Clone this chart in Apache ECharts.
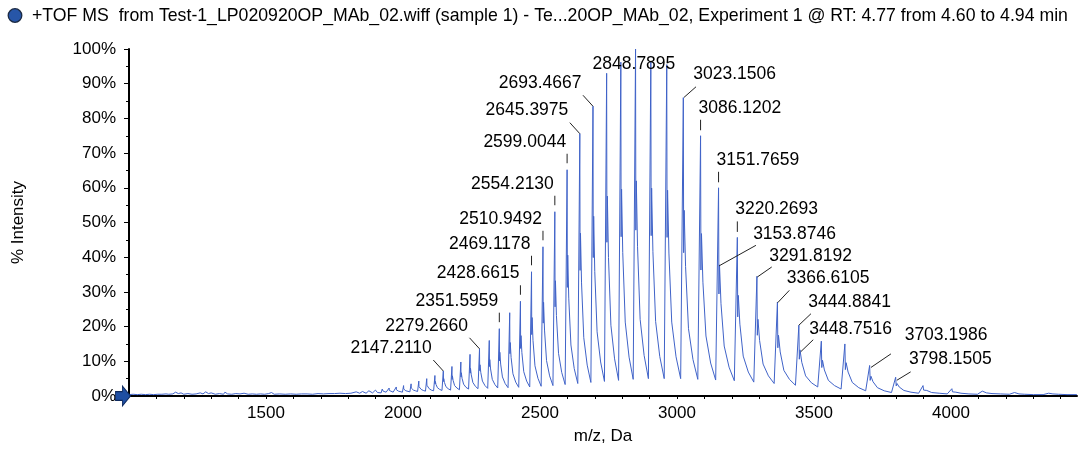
<!DOCTYPE html>
<html>
<head>
<meta charset="utf-8">
<script src="https://cdn.jsdelivr.net/npm/echarts@6/dist/echarts.min.js"></script>
<style>
  html, body { margin: 0; padding: 0; background: #fff; }
  #main { width: 1079px; height: 450px; }
</style>
</head>
<body>
<div id="main"></div>
<script>
// 低 m/z 区域的基线噪声
var lowMz = [1000, 1015, 1030, 1045, 1060, 1075, 1090, 1105, 1120, 1135, 1145, 1150, 1160, 1170, 1180, 1190, 1200, 1215, 1230, 1245, 1260, 1270, 1280, 1290, 1300, 1315, 1330, 1345, 1350, 1360, 1375, 1390, 1405, 1420, 1435, 1450, 1465, 1480, 1495, 1510, 1520, 1530, 1550, 1570, 1590, 1610, 1630, 1650, 1670, 1690, 1710, 1730, 1750, 1770, 1790, 1810];
var lowPct = [0.4, 0.5, 0.4, 0.5, 0.4, 0.5, 0.4, 0.5, 0.5, 0.6, 0.5, 1.0, 0.6, 1.1, 0.7, 0.9, 0.5, 0.7, 0.5, 0.6, 0.9, 0.6, 1.2, 0.7, 0.9, 0.5, 0.7, 0.5, 1.1, 0.6, 0.5, 0.7, 0.6, 0.8, 0.5, 0.6, 0.5, 0.6, 0.5, 0.7, 1.0, 0.5, 0.6, 0.5, 0.6, 0.5, 0.6, 0.6, 0.5, 0.7, 0.6, 0.7, 0.7, 0.8, 0.7, 0.8];

// 电荷态峰: 顶点、裂峰、拖尾、谷底 (% intensity)
var peakMz = [1829.2, 1852.1, 1875.5, 1899.5, 1924.2, 1949.5, 1975.5, 2002.2, 2029.6, 2057.7, 2086.7, 2116.5, 2147.2110, 2178.7, 2211.2, 2244.7, 2279.2660, 2314.9, 2351.5959, 2389.5, 2428.6615, 2469.1178, 2510.9492, 2554.2130, 2599.0044, 2645.3975, 2693.4667, 2743.3, 2795.1, 2848.7895, 2904.6, 2962.7, 3023.1506, 3086.1202, 3151.7659, 3220.2693, 3291.8192, 3366.6105, 3444.8841, 3526.8, 3612.8, 3703.1986, 3798.1505, 3898.0, 4003.3, 4114.5, 4232.0, 4356.4];
var peakTop = [1.2, 1.3, 1.5, 1.7, 2.0, 2.3, 2.6, 3.0, 3.5, 4.3, 5.0, 5.9, 7.2, 8.5, 9.8, 12.0, 13.6, 16.0, 19.4, 24.0, 27.3, 35.8, 43.0, 53.1, 65.2, 75.6, 83.5, 93.0, 96.2, 100, 96.5, 95.5, 86.0, 75.0, 60.0, 45.7, 34.5, 27.1, 20.4, 15.8, 15.0, 8.8, 5.4, 3.0, 2.1, 1.4, 1.0, 0.8];
var peakDip = [1.0, 1.0, 1.2, 1.3, 1.5, 1.6, 1.8, 2.0, 2.3, 2.7, 3.1, 3.5, 4.2, 4.8, 5.5, 6.6, 7.3, 8.5, 10.1, 12.2, 13.7, 17.7, 21.0, 25.7, 31.3, 36.2, 39.9, 44.3, 45.9, 47.8, 46.2, 45.7, 41.3, 36.3, 29.4, 22.8, 17.5, 13.9, 10.6, 8.2, 7.6, 4.5, 2.9, 1.7, 1.2, 0.9, 0.7, 0.6];
var peakSecond = [1.0, 1.1, 1.3, 1.4, 1.6, 1.8, 2.0, 2.3, 2.6, 3.1, 3.6, 4.2, 5.0, 5.8, 6.7, 8.0, 9.0, 10.5, 12.6, 15.4, 17.4, 22.6, 27.0, 33.2, 40.6, 46.9, 51.8, 57.6, 59.6, 62.0, 59.9, 59.3, 53.5, 46.8, 37.8, 29.0, 22.1, 17.5, 13.3, 10.3, 9.6, 5.7, 3.6, 2.0, 1.5, 1.0, 0.8, 0.6];
var peakMid = [1.0, 1.0, 1.1, 1.2, 1.4, 1.5, 1.7, 1.9, 2.2, 2.6, 2.9, 3.3, 3.9, 4.5, 5.1, 6.1, 6.8, 7.8, 9.2, 11.1, 12.5, 16.0, 19.0, 23.2, 28.2, 32.6, 35.9, 39.9, 41.4, 43.0, 41.6, 41.2, 37.3, 32.8, 26.6, 20.7, 16.0, 12.7, 9.7, 7.5, 6.9, 4.1, 2.6, 1.6, 1.1, 0.9, 0.6, 0.6];
var peakTail = [0.9, 0.9, 1.0, 1.0, 1.2, 1.2, 1.4, 1.5, 1.7, 1.9, 2.1, 2.4, 2.7, 3.0, 3.4, 3.9, 4.3, 4.8, 5.5, 6.4, 7.0, 8.7, 10.2, 12.3, 14.7, 16.8, 18.5, 20.4, 21.3, 22.1, 21.5, 21.3, 19.4, 17.3, 14.4, 11.5, 9.2, 7.4, 5.8, 4.5, 3.9, 2.4, 1.6, 1.0, 0.8, 0.7, 0.5, 0.5];
var peakFoot = [0.8, 0.8, 0.9, 1.0, 1.1, 1.1, 1.2, 1.3, 1.5, 1.6, 1.7, 1.9, 2.1, 2.3, 2.5, 2.8, 3.0, 3.3, 3.6, 4.0, 4.3, 5.1, 5.8, 6.8, 7.9, 8.9, 9.8, 10.7, 11.2, 11.7, 11.4, 11.3, 10.5, 9.5, 8.3, 6.9, 5.8, 4.8, 3.8, 3.0, 2.4, 1.5, 1.1, 0.8, 0.6, 0.6, 0.4, 0.4];
var valleyPct = [0.8, 0.8, 0.9, 0.9, 1.0, 1.0, 1.1, 1.2, 1.3, 1.4, 1.5, 1.6, 1.7, 1.8, 2.0, 2.1, 2.2, 2.3, 2.4, 2.5, 2.6, 2.8, 3.0, 3.3, 3.6, 3.9, 4.2, 4.5, 4.8, 5.0, 5.0, 5.0, 4.8, 4.6, 4.4, 4.0, 3.6, 3.1, 2.6, 2.0, 1.5, 1.0, 0.8, 0.6, 0.5, 0.5, 0.4, 0.4];

// 标注的峰
var labelMz = [2147.2110, 2279.2660, 2351.5959, 2428.6615, 2469.1178, 2510.9492, 2554.2130, 2599.0044, 2645.3975, 2693.4667, 2848.7895, 3023.1506, 3086.1202, 3151.7659, 3220.2693, 3153.8746, 3291.8192, 3366.6105, 3444.8841, 3448.7516, 3703.1986, 3798.1505];
var labelPct = [7.2, 13.6, 19.4, 27.3, 35.8, 43.0, 53.1, 65.2, 75.6, 83.5, 100, 86.0, 75.0, 60.0, 45.7, 37.8, 34.5, 27.1, 20.4, 13.3, 8.8, 5.4];

var xTicks = { min: 1000, max: 4460, interval: 100, labelStep: 500 };
var yTicks = { min: 0, max: 100, interval: 10 };

var titleText = '+TOF MS  from Test-1_LP020920OP_MAb_02.wiff (sample 1) - Te...20OP_MAb_02, Experiment 1 @ RT: 4.77 from 4.60 to 4.94 min';

// 标签相对峰顶的摆放 (像素)
var diagL = { align: 'right', dx: -11.5, dy: -23, line: [-10, -11, 0, 0] };
var dashR = { align: 'right', dx: -1, dy: -28, line: [0, -16, 0, -6.5] };
var dashL = { align: 'left', dx: -2, dy: -28, line: [0, -16, 0, -5.5] };
var labelPlace = [
    diagL, diagL, dashR, dashR, dashR, dashR, dashR, dashR, diagL, diagL,
    { align: 'center', dx: -1.6, dy: 14.7, line: null },
    { align: 'left', dx: 10, dy: -23.5, line: [12.7, -10.8, 0.7, -0.2] },
    dashL, dashL, dashL,
    { align: 'left', dx: 34, dy: -30.5, line: [36.8, -19.5, 0, 1] },
    { align: 'left', dx: 12.4, dy: -20, line: [14.8, -9.3, 0.4, 0.7] },
    { align: 'left', dx: 9.3, dy: -23.3, line: [11.9, -11.6, 0.3, 0.7] },
    { align: 'left', dx: 9.4, dy: -23.1, line: [12.1, -11.5, 0, 0] },
    { align: 'left', dx: 9.3, dy: -20.4, line: [13.3, -10.1, 0.7, 2] },
    { align: 'left', dx: 35, dy: -30.5, line: [21.3, -11.6, 1.3, 2] },
    { align: 'left', dx: 13.3, dy: -18.2, line: [15, -5.4, 1.2, 3] }
];

var spectrum = [];
lowMz.forEach(function (m, i) { spectrum.push([m, lowPct[i]]); });
peakMz.forEach(function (m, i) {
    var gap = (i < peakMz.length - 1 ? peakMz[i + 1] : m + 120) - m;
    spectrum.push([m, peakTop[i]]);
    spectrum.push([m + 0.02 * gap, peakDip[i]]);
    spectrum.push([m + 0.05 * gap, peakSecond[i]]);
    spectrum.push([m + 0.13 * gap, peakMid[i]]);
    spectrum.push([m + 0.3 * gap, peakTail[i]]);
    spectrum.push([m + 0.56 * gap, peakFoot[i]]);
    spectrum.push([m + 0.84 * gap, valleyPct[i]]);
});
spectrum.push([xTicks.max, 0.4]);

var labelData = labelMz.map(function (m, i) { return [m, labelPct[i]]; });

var font = '"Liberation Sans", Arial, Helvetica, sans-serif';
var chart = echarts.init(document.getElementById('main'), null, { renderer: 'canvas' });

var option = {
    animation: false,
    backgroundColor: '#fff',
    textStyle: { fontFamily: font, color: '#000' },
    title: {
        text: titleText,
        left: 27,
        top: 2,
        textStyle: { fontSize: 17.7, fontWeight: 'normal', color: '#000', fontFamily: font }
    },
    graphic: [{
        type: 'circle',
        shape: { cx: 15, cy: 15.5, r: 6.8 },
        style: { fill: '#2756a8', stroke: '#1b2a44', lineWidth: 1.3 }
    }],
    grid: { left: 129, right: 2, top: 49, bottom: 54 },
    xAxis: {
        type: 'value',
        min: xTicks.min,
        max: xTicks.max,
        interval: xTicks.interval,
        name: 'm/z, Da',
        nameLocation: 'middle',
        nameGap: 32,
        nameTextStyle: { fontSize: 17, color: '#000' },
        axisLine: { lineStyle: { color: '#000', width: 2 } },
        axisTick: { length: 3, lineStyle: { color: '#000', width: 1 } },
        axisLabel: {
            fontSize: 17,
            color: '#000',
            margin: 9,
            showMinLabel: false,
            showMaxLabel: false,
            formatter: function (v) {
                return (v % xTicks.labelStep === 0 && v !== xTicks.min) ? String(v) : '';
            }
        },
        splitLine: { show: false }
    },
    yAxis: {
        type: 'value',
        min: yTicks.min,
        max: yTicks.max,
        interval: yTicks.interval,
        name: '% Intensity',
        nameLocation: 'middle',
        nameGap: 102,
        nameTextStyle: { fontSize: 17, color: '#000' },
        axisLine: { show: true, lineStyle: { color: '#000', width: 2 } },
        axisTick: { show: true, length: 5, lineStyle: { color: '#000', width: 1 } },
        minorTick: { show: true, splitNumber: 2, length: 3, lineStyle: { color: '#000', width: 1 } },
        axisLabel: { fontSize: 17, color: '#000', margin: 13, formatter: '{value}%' },
        splitLine: { show: false }
    },
    series: [{
        name: 'spectrum',
        type: 'line',
        data: spectrum,
        showSymbol: false,
        symbol: 'none',
        silent: true,
        lineStyle: { color: '#4063c8', width: 1 },
        markPoint: {
            symbol: 'path://M0,5 L6,5 L6,0 L13,9 L6,18 L6,13 L0,13 Z',
            symbolSize: [15, 20],
            symbolOffset: [-6, 0],
            silent: true,
            label: { show: false },
            itemStyle: { color: '#1f4fa3', borderColor: '#0e2a5e', borderWidth: 1 },
            data: [{ coord: [xTicks.min, 0] }]
        }
    }, {
        name: 'labels',
        type: 'custom',
        data: labelData,
        clip: false,
        silent: true,
        z: 5,
        renderItem: function (params, api) {
            var i = params.dataIndex;
            var p = api.coord([api.value(0), api.value(1)]);
            var place = labelPlace[i];
            var children = [{
                type: 'text',
                style: {
                    text: labelMz[i].toFixed(4),
                    x: p[0] + place.dx,
                    y: p[1] + place.dy,
                    align: place.align,
                    verticalAlign: 'middle',
                    fill: '#000',
                    font: '17.5px ' + font
                }
            }];
            if (place.line) {
                children.push({
                    type: 'line',
                    shape: {
                        x1: p[0] + place.line[0], y1: p[1] + place.line[1],
                        x2: p[0] + place.line[2], y2: p[1] + place.line[3]
                    },
                    style: { stroke: '#222', lineWidth: 1 }
                });
            }
            return { type: 'group', children: children };
        }
    }]
};

chart.setOption(option);
</script>
</body>
</html>
